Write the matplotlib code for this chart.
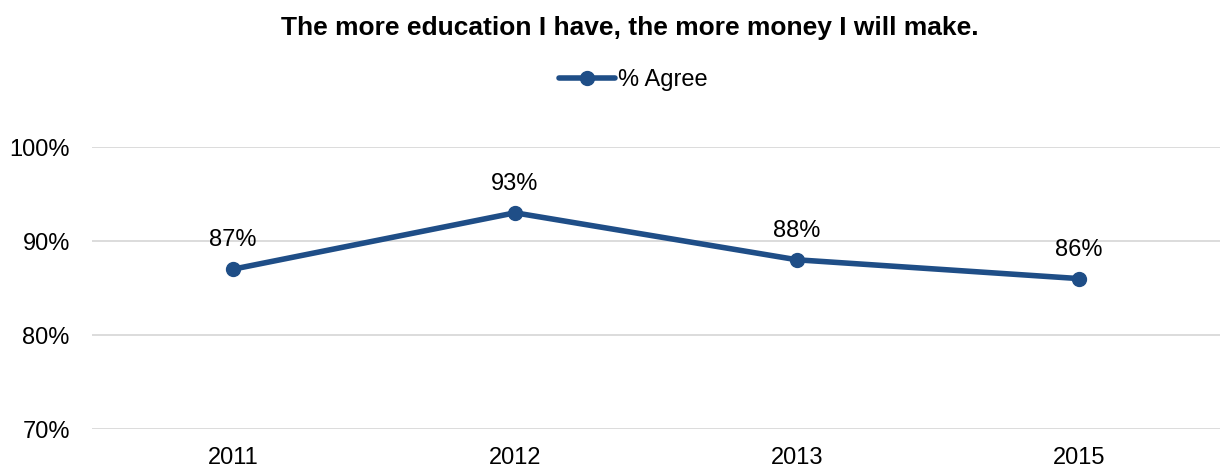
import matplotlib
matplotlib.use('Agg')
import matplotlib.pyplot as plt
from matplotlib.ticker import PercentFormatter

plt.rcParams['font.family'] = ['Liberation Sans', 'DejaVu Sans']

years = ['2011', '2012', '2013', '2015']
agree = [87, 93, 88, 86]
yticks = [70, 80, 90, 100]

color = '#1F4E87'
fs = 17

fig = plt.figure(figsize=(12.2, 4.67), dpi=100)
ax = fig.add_axes([92 / 1220, 1 - 429 / 467, 1128 / 1220, (429 - 147) / 467])

x = range(len(years))
ax.plot(x, agree, color=color, lw=4, marker='o', ms=10, label='% Agree',
        solid_capstyle='round', zorder=3)
for xi, v in zip(x, agree):
    ax.annotate(f'{v}%', (xi, v), xytext=(0, 13), textcoords='offset points',
                ha='center', va='bottom', fontsize=fs)

ax.set_xlim(-0.5, len(years) - 0.5)
ax.set_ylim(70, 100)
ax.set_yticks(yticks)
ax.yaxis.set_major_formatter(PercentFormatter(decimals=0))
ax.set_xticks(list(x))
ax.set_xticklabels(years)
ax.tick_params(length=0, labelsize=fs, colors='black')
ax.tick_params(axis='y', pad=16)
ax.tick_params(axis='x', pad=13)
ax.grid(axis='y', color='#D9D9D9', lw=1.3)
ax.set_axisbelow(True)
for s in ax.spines.values():
    s.set_visible(False)

fig.suptitle('The more education I have, the more money I will make.',
             fontsize=19, fontweight='bold', x=630 / 1220, y=1 - 28 / 467,
             va='center')
fig.legend(loc='center', bbox_to_anchor=(633 / 1220, 1 - 80 / 467),
           frameon=False, fontsize=fs, handlelength=2.4, handletextpad=0.1)

fig.savefig('out.png', dpi=100)
